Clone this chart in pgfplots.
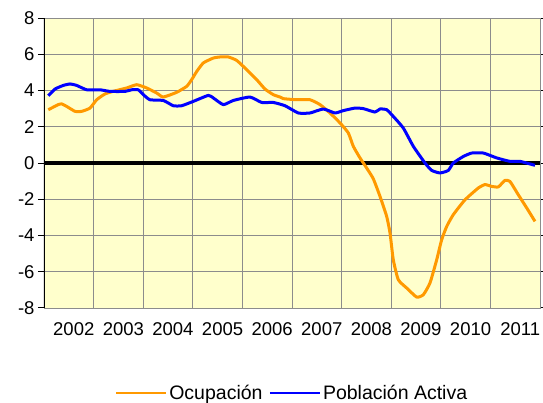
\documentclass[border=0pt]{standalone}
\usepackage{pgfplots}
\pgfplotsset{compat=1.18}
\usepackage{pgfplotstable}
\usepackage{fontspec}
\setmainfont{Liberation Sans}
\definecolor{bgy}{HTML}{FFFFCC}
\definecolor{gridg}{HTML}{8C8C8C}
\definecolor{orng}{HTML}{FF9900}
\definecolor{blu}{HTML}{0000FF}

\pgfplotstableread{
x y
0.087 2.94
0.288 3.22
0.357 3.26
0.458 3.12
0.625 2.85
0.760 2.85
0.927 3.03
1.062 3.49
1.230 3.81
1.391 3.95
1.667 4.14
1.869 4.32
2.071 4.14
2.272 3.86
2.405 3.64
2.675 3.90
2.877 4.23
2.978 4.60
3.079 5.05
3.212 5.52
3.413 5.79
3.548 5.85
3.716 5.85
3.885 5.66
4.087 5.15
4.288 4.60
4.456 4.08
4.623 3.77
4.758 3.64
4.825 3.55
5.095 3.49
5.363 3.49
5.565 3.22
5.766 2.76
5.968 2.21
6.135 1.66
6.236 0.92
6.371 0.28
6.506 -0.28
6.639 -0.87
6.774 -1.84
6.909 -2.95
6.976 -3.86
7.042 -5.34
7.143 -6.44
7.313 -6.90
7.514 -7.40
7.647 -7.27
7.782 -6.62
7.917 -5.34
8.018 -4.23
8.119 -3.50
8.252 -2.85
8.488 -2.03
8.756 -1.38
8.891 -1.19
9.026 -1.29
9.159 -1.32
9.294 -0.96
9.395 -1.02
9.562 -1.75
9.732 -2.48
9.899 -3.22
}\ocupacion

\pgfplotstableread{
x y
0.087 3.71
0.222 4.08
0.389 4.28
0.524 4.36
0.659 4.28
0.861 4.04
1.129 4.04
1.331 3.95
1.633 3.95
1.768 4.04
1.901 4.04
2.002 3.77
2.137 3.49
2.405 3.45
2.607 3.16
2.776 3.16
3.010 3.40
3.313 3.73
3.413 3.59
3.615 3.22
3.817 3.45
4.153 3.64
4.389 3.34
4.623 3.34
4.859 3.16
5.127 2.76
5.363 2.76
5.631 2.98
5.867 2.76
6.034 2.89
6.270 3.03
6.438 3.00
6.673 2.81
6.774 2.98
6.909 2.94
7.042 2.57
7.244 1.93
7.446 0.92
7.681 0.00
7.817 -0.41
7.984 -0.55
8.151 -0.41
8.252 0.00
8.454 0.36
8.623 0.55
8.857 0.55
9.127 0.28
9.395 0.09
9.597 0.09
9.899 -0.13
}\poblacion

\begin{document}
\begin{tikzpicture}
\begin{axis}[
  scale only axis, width=496pt, height=290pt,
  xmin=0, xmax=10, ymin=-8, ymax=8,
  axis background/.style={fill=bgy},
  axis line style={gridg, line width=0.8pt},
  xtick={0.6,1.6,2.6,3.6,4.6,5.6,6.6,7.6,8.6,9.6},
  xticklabels={2002,2003,2004,2005,2006,2007,2008,2009,2010,2011},
  minor xtick={1,2,3,4,5,6,7,8,9},
  xtick style={draw=none},
  minor x tick style={draw=none},
  xminorgrids=true, ymajorgrids=true, xmajorgrids=false,
  grid style={gridg, line width=0.8pt},
  ytick={-8,-6,-4,-2,0,2,4,6,8},
  tick align=outside, major tick length=6pt,
  ytick style={black, line width=1pt},
  /pgf/number format/assume math mode=true,
  tick label style={font=\fontsize{18.5}{21}\selectfont, black},
  xticklabel style={yshift=-5pt},
  legend columns=2,
  legend style={draw=none, fill=none, at={(0.5,-0.293)}, anchor=center,
    font=\fontsize{19.5}{22}\selectfont,
    /tikz/every even column/.append style={column sep=4pt}},
  legend image code/.code={\draw[#1, line width=2.5pt] (0pt,0pt) -- (50pt,0pt);},
]
\draw[black, line width=3.6pt] (axis cs:0,0) -- (axis cs:10,0);
\addplot[orng, line width=3pt, line join=round, smooth, tension=0.3] table {\ocupacion};
\addlegendentry{Ocupación}
\addplot[blu, line width=3pt, line join=round, smooth, tension=0.3] table {\poblacion};
\addlegendentry{Población Activa}
\draw[black, line width=1.5pt] (rel axis cs:0,0) -- (rel axis cs:0,1);
\end{axis}
\pgfresetboundingbox
\path (-44pt,-95pt) rectangle (499pt,308pt);
\end{tikzpicture}
\end{document}
